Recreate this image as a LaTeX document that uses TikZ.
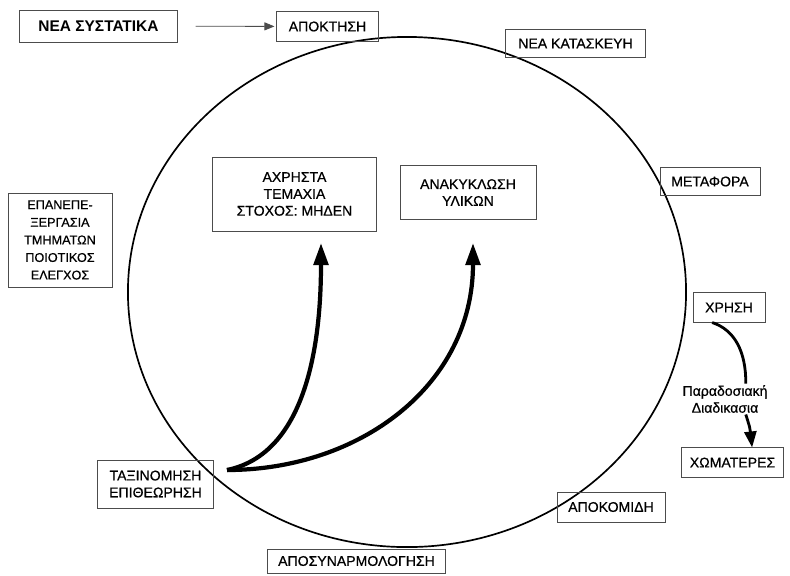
\documentclass[tikz,border=0pt]{standalone}
\usepackage{fontspec}
\setmainfont{Liberation Sans}
\newfontfamily\boxfont[FakeBold=0.6]{Liberation Sans}
\usetikzlibrary{arrows.meta}
\tikzset{
  box/.style={draw=black!70, line width=0.6pt, align=center, inner sep=2pt,
    font=\boxfont\fontsize{10}{12}\selectfont},
  flow/.style={line width=3pt, -{Triangle[length=0.55cm,width=0.36cm]}},
}
\begin{document}
\begin{tikzpicture}[x=0.025cm,y=-0.025cm]
  \useasboundingbox (0,0) rectangle (790,575);
  \draw[line width=1.2pt] (407,292) ellipse [x radius=6.975cm, y radius=6.375cm];
  \path
    (98.5,26) node[box, minimum width=3.93cm, minimum height=0.8cm,
      font=\fontsize{11}{13}\selectfont\bfseries] (nsys) {ΝΕΑ ΣΥΣΤΑΤΙΚΑ}
    (327.5,26.5) node[box, minimum width=2.53cm, minimum height=0.73cm] (apokt) {ΑΠΟΚΤΗΣΗ}
    (575.5,43.5) node[box, minimum width=3.48cm, minimum height=0.68cm] (neakat) {ΝΕΑ ΚΑΤΑΣΚΕΥΗ}
    (710,181.5) node[box, minimum width=2.5cm, minimum height=0.68cm] (metaf) {ΜΕΤΑΦΟΡΑ}
    (729,307.5) node[box, minimum width=1.8cm, minimum height=0.73cm] (xrisi) {ΧΡΗΣΗ}
    (725,399) node[font=\boxfont\fontsize{10}{12}\selectfont, align=center, inner sep=1pt] (trad) {Παραδοσιακή\\Διαδικασια}
    (732.5,462.5) node[box, minimum width=2.53cm, minimum height=0.73cm] (xomat) {ΧΩΜΑΤΕΡΕΣ}
    (611,507) node[box, minimum width=2.7cm, minimum height=0.75cm] (apokom) {ΑΠΟΚΟΜΙΔΗ}
    (356.5,561) node[box, minimum width=4.43cm, minimum height=0.6cm] (aposyn) {ΑΠΟΣΥΝΑΡΜΟΛΟΓΗΣΗ}
    (155.5,484) node[box, minimum width=2.88cm, minimum height=1.2cm] (taxin) {ΤΑΞΙΝΟΜΗΣΗ\\ΕΠΙΘΕΩΡΗΣΗ}
    (60,240) node[box, minimum width=2.6cm, minimum height=2.35cm,
      font=\boxfont\fontsize{9}{12.5}\selectfont] (epan) {ΕΠΑΝΕΠΕ-\\ΞΕΡΓΑΣΙΑ\\ΤΜΗΜΑΤΩΝ\\ΠΟΙΟΤΙΚΟΣ\\ΕΛΕΓΧΟΣ}
    (294.5,194) node[box, minimum width=4.08cm, minimum height=1.85cm] (axrista) {ΑΧΡΗΣΤΑ\\ΤΕΜΑΧΙΑ\\ΣΤΟΧΟΣ: ΜΗΔΕΝ}
    (468,192.5) node[box, minimum width=3.4cm, minimum height=1.33cm] (anakykl) {ΑΝΑΚΥΚΛΩΣΗ\\ΥΛΙΚΩΝ};
  \coordinate (src) at (227,470);
  \coordinate (tipA) at (321,243);
  \coordinate (tipB) at (473,243);
  \begin{scope}[flow]
    \draw (src) .. controls (300,455) and (321,360) .. (tipA);
    \draw (src) .. controls (360,470) and (473,385) .. (tipB);
  \end{scope}
  \draw[black!70, line width=0.6pt, -{Triangle[length=0.25cm,width=0.2cm]},
    shorten <=0.45cm, shorten >=0.05cm] (nsys) -- (apokt);
  \draw[line width=2pt] ([xshift=-0.42cm]xrisi.south) .. controls (735,330) and (746,352) .. ([xshift=0.52cm]trad.north);
  \draw[line width=2pt, -{Triangle[length=0.4cm,width=0.3cm]}]
    ([xshift=0.52cm]trad.south) .. controls (750,428) .. ([xshift=0.49cm]xomat.north);
\end{tikzpicture}
\end{document}
